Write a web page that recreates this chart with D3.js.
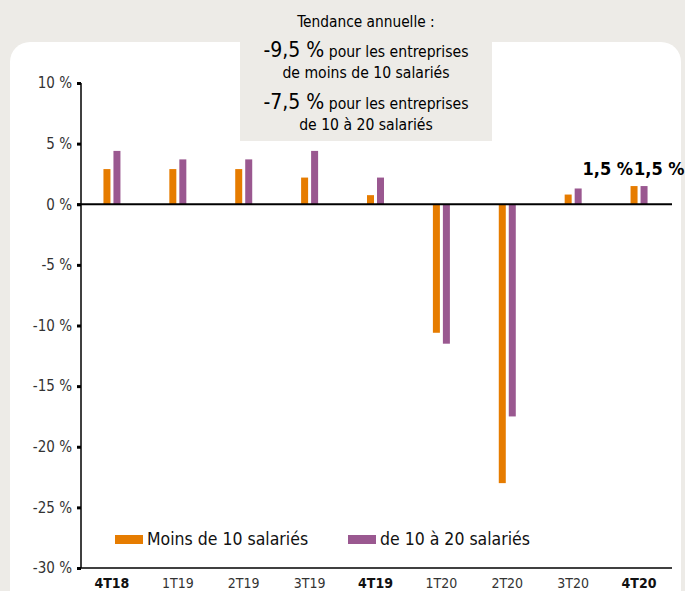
<!DOCTYPE html>
<html>
<head>
<meta charset="utf-8">
<script src="https://cdn.jsdelivr.net/npm/d3@7"></script>
<style>
  body { margin: 0; background: #edebe7; }
  svg { display: block; }
  text { font-family: "DejaVu Sans Condensed", "Liberation Sans Narrow", sans-serif; }
</style>
</head>
<body>
<svg id="chart" width="685" height="591"></svg>
<script>
  // trimestres et valeurs (%)
  var quarters = ['4T18', '1T19', '2T19', '3T19', '4T19', '1T20', '2T20', '3T20', '4T20']
  var boldQuarters = ['4T18', '4T19', '4T20']
  var moins10 = [2.9, 2.9, 2.9, 2.2, 0.75, -10.6, -23.0, 0.8, 1.5]
  var de10a20 = [4.4, 3.7, 3.7, 4.4, 2.2, -11.5, -17.5, 1.3, 1.5]
  var yTicks = [10, 5, 0, -5, -10, -15, -20, -25, -30]
  var seriesNames = ['Moins de 10 salariés', 'de 10 à 20 salariés']
  var lastLabels = ['1,5 %', '1,5 %']

  var orange = '#e67c00', purple = '#9a5890'

  svg = d3.select('#chart')

  // panneau blanc
  svg.append('rect')
    .attr('x', 10).attr('y', 42)
    .attr('width', 671).attr('height', 600)
    .attr('rx', 20).attr('ry', 20)
    .attr('fill', 'white')

  // encadré tendance annuelle
  svg.append('rect')
    .attr('x', 240).attr('y', 0)
    .attr('width', 252).attr('height', 141)
    .attr('fill', '#edebe7')

  var cx = 366
  svg.append('text').attr('x', cx).attr('y', 27).attr('text-anchor', 'middle')
    .style('font-size', '15.3px').text('Tendance annuelle :')

  var t1 = svg.append('text').attr('x', cx).attr('y', 57).attr('text-anchor', 'middle')
  t1.append('tspan').style('font-size', '21px').text('-9,5 %')
  t1.append('tspan').style('font-size', '15.6px').text(' pour les entreprises')
  svg.append('text').attr('x', cx).attr('y', 78).attr('text-anchor', 'middle')
    .style('font-size', '15.6px').text('de moins de 10 salariés')

  var t2 = svg.append('text').attr('x', cx).attr('y', 109).attr('text-anchor', 'middle')
  t2.append('tspan').style('font-size', '21px').text('-7,5 %')
  t2.append('tspan').style('font-size', '15.6px').text(' pour les entreprises')
  svg.append('text').attr('x', cx).attr('y', 130).attr('text-anchor', 'middle')
    .style('font-size', '15.6px').text('de 10 à 20 salariés')

  // échelles
  xScale = d3.scaleBand().domain(quarters).range([79, 672])
  xSub = d3.scaleBand().domain([0, 1]).range([-8.5, 8.5]).paddingInner(0.3)
  yScale = d3.scaleLinear().domain([-30, 10]).range([568, 83])

  // axe Y
  var yAxis = svg.append('g')
    .attr('transform', 'translate(81,0)')
    .call(d3.axisLeft(yScale).tickValues(yTicks).tickSize(4).tickPadding(5)
      .tickFormat(function(n){ return n + ' %' }))
  yAxis.select('.domain').attr('stroke-width', 1.5).attr('d', 'M0,' + yScale(10) + 'V' + yScale(-30))
  yAxis.selectAll('.tick line').attr('stroke-width', 3)
  yAxis.selectAll('.tick text')
    .style('font-size', '15px').style('fill', '#333')
    .style('font-family', '"DejaVu Sans Condensed", sans-serif')

  // axe X (bas)
  svg.append('line')
    .attr('x1', 81).attr('x2', xScale.range()[1])
    .attr('y1', yScale(-30)).attr('y2', yScale(-30))
    .attr('stroke', 'black').attr('stroke-width', 1.5)

  svg.selectAll('.xlab').data(quarters)
    .enter().append('text')
    .attr('class', 'xlab')
    .attr('x', function(d){ return xScale(d) + xScale.bandwidth()/2 })
    .attr('y', 588)
    .attr('text-anchor', 'middle')
    .style('font-size', '14px')
    .style('font-weight', function(d){ return boldQuarters.indexOf(d) >= 0 ? 'bold' : 'normal' })
    .style('fill', function(d){ return boldQuarters.indexOf(d) >= 0 ? '#111' : '#333' })
    .text(function(d){ return d })

  // barres
  var series = [moins10, de10a20]
  var colors = [orange, purple]
  series.forEach(function(vals, s){
    svg.selectAll('.bar' + s).data(vals)
      .enter().append('rect')
      .attr('class', 'bar' + s)
      .attr('x', function(d, i){ return xScale(quarters[i]) + xScale.bandwidth()/2 + xSub(s) })
      .attr('width', xSub.bandwidth())
      .attr('y', function(d){ return yScale(Math.max(0, d)) })
      .attr('height', function(d){ return Math.abs(yScale(d) - yScale(0)) })
      .attr('fill', colors[s])
  })

  // ligne zéro
  svg.append('line')
    .attr('x1', 77).attr('x2', xScale.range()[1])
    .attr('y1', yScale(0)).attr('y2', yScale(0))
    .attr('stroke', 'black').attr('stroke-width', 2)

  // étiquettes 4T20
  var lastX = xScale(quarters[quarters.length-1]) + xScale.bandwidth()/2
  svg.append('text')
    .attr('x', lastX - 6).attr('y', yScale(moins10[8]) - 11)
    .attr('text-anchor', 'end')
    .style('font-size', '18px').style('font-weight', 'bold')
    .text(lastLabels[0])
  svg.append('text')
    .attr('x', lastX - 5).attr('y', yScale(de10a20[8]) - 11)
    .attr('text-anchor', 'start')
    .style('font-size', '18px').style('font-weight', 'bold')
    .text(lastLabels[1])

  // légende
  var legX = [115, 348]
  seriesNames.forEach(function(name, s){
    svg.append('rect')
      .attr('x', legX[s]).attr('y', 535)
      .attr('width', 28).attr('height', 9)
      .attr('fill', colors[s])
    svg.append('text')
      .attr('x', legX[s] + 32).attr('y', 545)
      .style('font-size', '17.5px')
      .style('fill', '#111')
      .text(name)
  })
</script>
</body>
</html>
